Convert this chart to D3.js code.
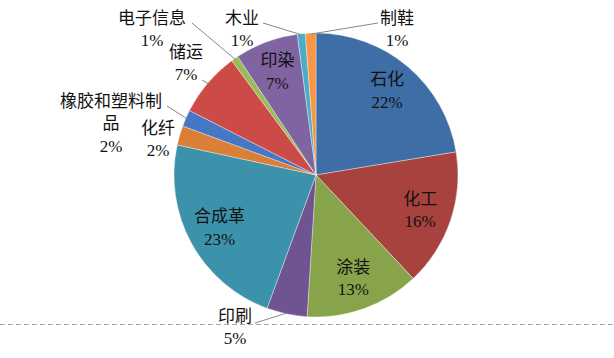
<!DOCTYPE html>
<html><head><meta charset="utf-8">
<script src="https://cdn.jsdelivr.net/npm/d3@7"></script>
<style>html,body{margin:0;padding:0;background:#fff;}</style>
</head><body>
<svg id="c" width="614" height="358"></svg>
<script>
const categories = ["石化","化工","涂装","印刷","合成革","化纤","橡胶和塑料制品","储运","电子信息","印染","木业","制鞋"];
const values = [22.4,15.6,13.0,4.6,22.8,2.2,1.9,7.4,0.8,7.2,0.9,1.2];
const colors = ["#3F6DA6","#A8423F","#87A44B","#6E5490","#3D92AB","#DA7F38","#4677C4","#CC4B47","#9BBB59","#8064A2","#4BACC6","#F79646"];
const nameLines = [["石化"],["化工"],["涂装"],["印刷"],["合成革"],["化纤"],["橡胶和塑料制","品"],["储运"],["电子信息"],["印染"],["木业"],["制鞋"]];
// label layout: inside labels use the arc centroid; outside ones get a position and a leader start
const outside = {
  "印刷": {x:235, y:316, lead:[255,323]},
  "化纤": {x:158, y:128, lead:null},
  "橡胶和塑料制品": {x:111, y:101, lead:[167,106]},
  "储运": {x:186, y:52, lead:[202,80]},
  "电子信息": {x:152, y:18, lead:[192,23]},
  "木业": {x:242, y:18, lead:[263,23]},
  "制鞋": {x:397, y:18, lead:[378,23]}
};

const svg = d3.select("#c");
const cx = 316, cy = 175, R = 142;
const g = svg.append("g").attr("transform", `translate(${cx},${cy})`);

// dashed line at bottom
svg.append("line").attr("x1",0).attr("x2",614).attr("y1",324.5).attr("y2",324.5)
  .attr("stroke","#aaa").attr("stroke-width",1).attr("stroke-dasharray","5,3");

const data = categories.map((c,i)=>({name:c, value:values[i], color:colors[i], lines:nameLines[i]}));
const total = d3.sum(values);
const pie = d3.pie().value(d=>d.value).sort(null);
const arcs = pie(data);
const arc = d3.arc().innerRadius(0).outerRadius(R);
const labelArc = d3.arc().innerRadius(110).outerRadius(110);
const edgeArc = d3.arc().innerRadius(R-1).outerRadius(R-1);

g.selectAll("path.s").data(arcs).join("path").attr("class","s")
  .attr("d", arc).attr("fill", d=>d.data.color)
  .attr("stroke","rgba(255,255,255,0.6)").attr("stroke-width",0.6);

const font = "'Liberation Serif','Noto Sans CJK SC',serif";
const lh = 22.5;
arcs.forEach(a=>{
  const d = a.data;
  const pct = Math.round(d.value/total*100) + "%";
  const lines = d.lines.concat([pct]);
  let x, y;
  const o = outside[d.name];
  if (o) {
    x = o.x - cx; y = o.y - cy;
    if (o.lead) {
      const p = edgeArc.centroid(a);
      g.append("line").attr("x1", o.lead[0]-cx).attr("y1", o.lead[1]-cy)
        .attr("x2", p[0]).attr("y2", p[1]).attr("stroke","#888").attr("stroke-width",1);
    }
  } else {
    const c = labelArc.centroid(a);
    x = c[0]; y = c[1] - lh*(lines.length-1)/2;
  }
  lines.forEach((t,i)=>{
    g.append("text").attr("x", x).attr("y", y + i*lh)
      .attr("text-anchor","middle").attr("dominant-baseline","central")
      .attr("font-family", font).attr("font-size", 17).attr("fill","#111").text(t);
  });
});
</script>
</body></html>
